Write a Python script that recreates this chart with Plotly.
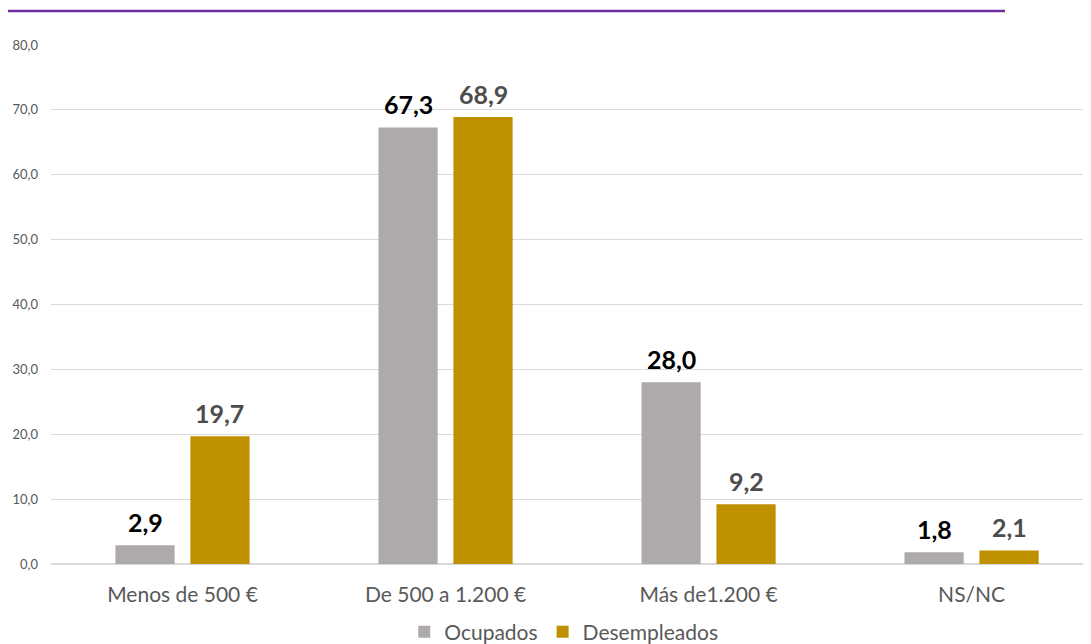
import plotly.graph_objects as go

categories = ["Menos de 500 €", "De 500 a 1.200 €", "Más de1.200 €", "NS/NC"]
ocupados = [2.9, 67.3, 28.0, 1.8]
desempleados = [19.7, 68.9, 9.2, 2.1]
y_ticks = [0, 10, 20, 30, 40, 50, 60, 70, 80]

FONT = "Lato, Open Sans, sans-serif"

def fmt(v):
    return f"{v:.1f}".replace(".", ",")

# figure is offset by the page's 8px body margin, so size/margins compensate
W, H = 1083, 636
ML, MR, MT, MB = 43, 0, 37, 80
PW, PH = W - ML - MR, H - MT - MB
XR = [-0.5, 3.454]
cat_px = PW / (XR[1] - XR[0])
bargap, bargroupgap = 0.43, 0.21
slot = cat_px * (1 - bargap) / 2

fig = go.Figure()
fig.add_trace(go.Bar(
    name="Ocupados", x=categories, y=ocupados,
    marker=dict(color="#AEAAAA", line=dict(width=0)),
))
fig.add_trace(go.Bar(
    name="Desempleados", x=categories, y=desempleados,
    marker=dict(color="#BF9000", line=dict(width=0)),
))

annotations = []
for vals, shift, color in [(ocupados, -slot / 2, "#000000"), (desempleados, slot / 2, "#4D4D4D")]:
    for c, v in zip(categories, vals):
        annotations.append(dict(
            x=c, y=v, xref="x", yref="y", text=fmt(v), showarrow=False,
            xanchor="center", yanchor="bottom", xshift=shift, yshift=6,
            font=dict(family=FONT, size=25, color=color, weight="bold"),
        ))

line_y = 1 + (MT - 3) / PH

fig.update_layout(
    width=W, height=H,
    margin=dict(l=ML, r=MR, t=MT, b=MB, autoexpand=False),
    paper_bgcolor="white", plot_bgcolor="white",
    barmode="group", bargap=bargap, bargroupgap=bargroupgap,
    separators=",.",
    font=dict(family=FONT, color="#595959"),
    showlegend=True,
    legend=dict(orientation="h", x=0.493, xanchor="center", y=-68 / PH, yanchor="middle",
                font=dict(size=21, color="#595959"), itemsizing="constant",
                traceorder="normal", itemwidth=30),
    xaxis=dict(range=XR, showgrid=False, showline=False, zeroline=False,
               tickfont=dict(size=21, color="#595959"), ticks="", ticklabelstandoff=16),
    yaxis=dict(range=[0, 80], tickvals=y_ticks, tickformat=".1f",
               showgrid=True, gridcolor="#D9D9D9", gridwidth=1, zeroline=True,
               zerolinecolor="#D9D9D9", showline=False,
               tickfont=dict(size=13, color="#595959"), ticklabelstandoff=12),
    annotations=annotations,
    shapes=[dict(type="line", xref="paper", yref="paper",
                 x0=(0 - ML) / PW, x1=(997 - ML) / PW,
                 y0=line_y, y1=line_y,
                 line=dict(color="#7030A0", width=2.5))],
)

fig.write_html("out.html")
